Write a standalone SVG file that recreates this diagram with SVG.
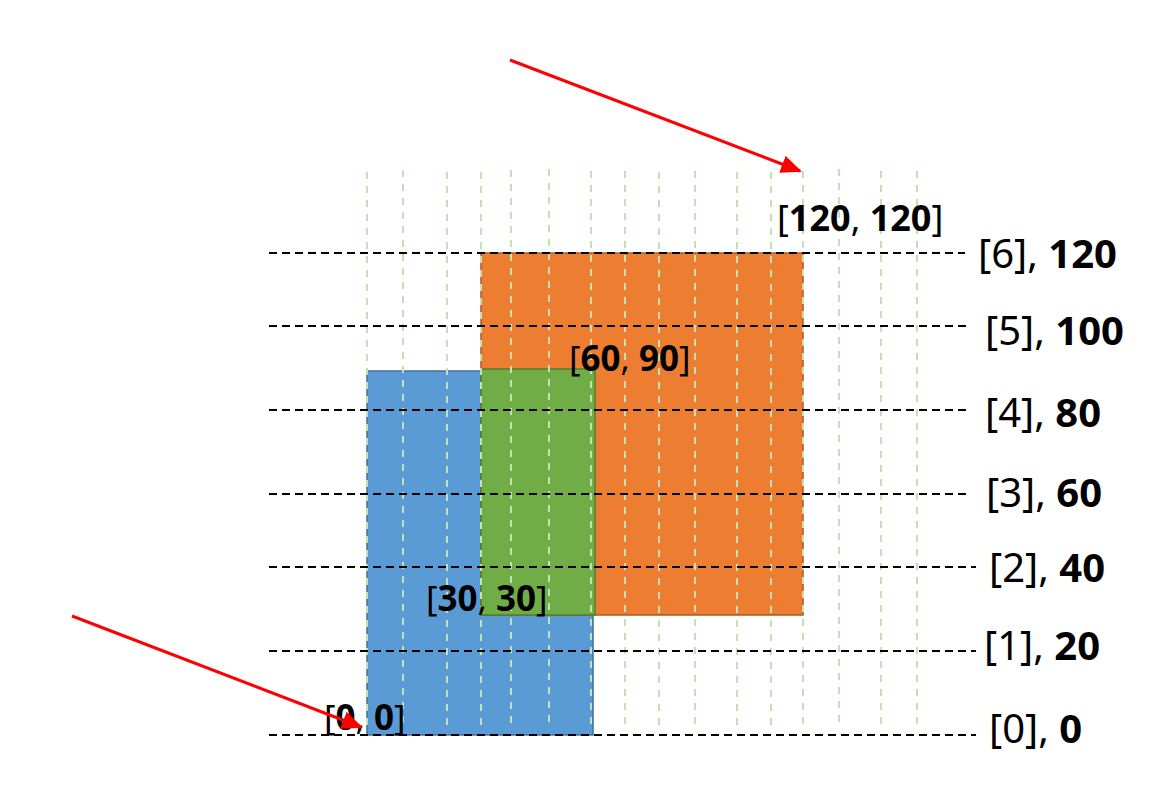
<svg xmlns="http://www.w3.org/2000/svg" width="1176" height="796" viewBox="0 0 1176 796">
<style>
.vg{stroke:#c5e0b4;stroke-width:2;stroke-dasharray:7 7;fill:none}
.hg{stroke:#000;stroke-width:2;stroke-dasharray:8 5;fill:none}
.t{font-family:"Noto Sans","Liberation Sans",sans-serif;fill:#000}
.b{font-weight:bold}
.arr{stroke:#ff0000;stroke-width:3;fill:none;marker-end:url(#ah)}
</style>
<defs>
<marker id="ah" viewBox="0 0 10 10" refX="9" refY="5" markerWidth="7" markerHeight="6" orient="auto" markerUnits="strokeWidth" preserveAspectRatio="none">
<path d="M0,0 L10,5 L0,10 Z" fill="#ff0000"/>
</marker>
</defs>
<rect width="1176" height="796" fill="#fff"/>
<g id="blue-rect"><rect x="367" y="371" width="226" height="364" fill="#5b9bd5" stroke="#41719c" stroke-width="1.5"/></g>
<g id="orange-rect"><rect x="481" y="253" width="322" height="362" fill="#ed7d31" stroke="#ae5a21" stroke-width="1.5"/></g>
<g id="green-rect"><rect x="481" y="369" width="114" height="246" fill="#70ad47" stroke="#507e32" stroke-width="1.5"/></g>
<g id="vgrid">
<line class="vg" x1="367" y1="172" x2="367" y2="728"/>
<line class="vg" x1="403" y1="170" x2="403" y2="728"/>
<line class="vg" x1="447" y1="172" x2="447" y2="728"/>
<line class="vg" x1="481" y1="172" x2="481" y2="728"/>
<line class="vg" x1="511" y1="170" x2="511" y2="728"/>
<line class="vg" x1="549" y1="169" x2="549" y2="728"/>
<line class="vg" x1="591" y1="171" x2="591" y2="728"/>
<line class="vg" x1="625" y1="171" x2="625" y2="728"/>
<line class="vg" x1="659" y1="172" x2="659" y2="728"/>
<line class="vg" x1="695" y1="171" x2="695" y2="728"/>
<line class="vg" x1="737" y1="172" x2="737" y2="728"/>
<line class="vg" x1="771" y1="172" x2="771" y2="728"/>
<line class="vg" x1="803" y1="171" x2="803" y2="728"/>
<line class="vg" x1="839" y1="169" x2="839" y2="728"/>
<line class="vg" x1="881" y1="171" x2="881" y2="728"/>
<line class="vg" x1="917" y1="171" x2="917" y2="728"/>
</g>
<g id="hgrid">
<line class="hg" x1="269" y1="253" x2="965" y2="253"/>
<line class="hg" x1="269" y1="326" x2="968" y2="326"/>
<line class="hg" x1="269" y1="410" x2="968" y2="410"/>
<line class="hg" x1="269" y1="494" x2="968" y2="494"/>
<line class="hg" x1="269" y1="567" x2="976" y2="567"/>
<line class="hg" x1="269" y1="651" x2="976" y2="651"/>
<line class="hg" x1="269" y1="735" x2="976" y2="735"/>
</g>
<g id="labels" class="t" font-size="40">
<text class="t" x="978" y="268">[6], <tspan class="b">120</tspan></text>
<text class="t" x="985" y="345">[5], <tspan class="b">100</tspan></text>
<text class="t" x="985" y="427">[4], <tspan class="b">80</tspan></text>
<text class="t" x="986" y="507">[3], <tspan class="b">60</tspan></text>
<text class="t" x="989" y="582">[2], <tspan class="b">40</tspan></text>
<text class="t" x="984" y="660">[1], <tspan class="b">20</tspan></text>
<text class="t" x="989" y="743">[0], <tspan class="b">0</tspan></text>
</g>
<g id="coords" class="t" font-size="35">
<text class="t" x="777" y="231" font-size="36">[<tspan class="b">120</tspan>, <tspan class="b">120</tspan>]</text>
<text class="t" x="569" y="371">[<tspan class="b">60</tspan>, <tspan class="b">90</tspan>]</text>
<text class="t" x="426" y="611">[<tspan class="b">30</tspan>, <tspan class="b">30</tspan>]</text>
<text class="t" x="324" y="730">[<tspan class="b">0</tspan>, <tspan class="b">0</tspan>]</text>
</g>
<g id="connectors">
<line class="arr" x1="510" y1="60" x2="800" y2="171"/>
<line class="arr" x1="72" y1="616" x2="361" y2="727"/>
</g>
</svg>
